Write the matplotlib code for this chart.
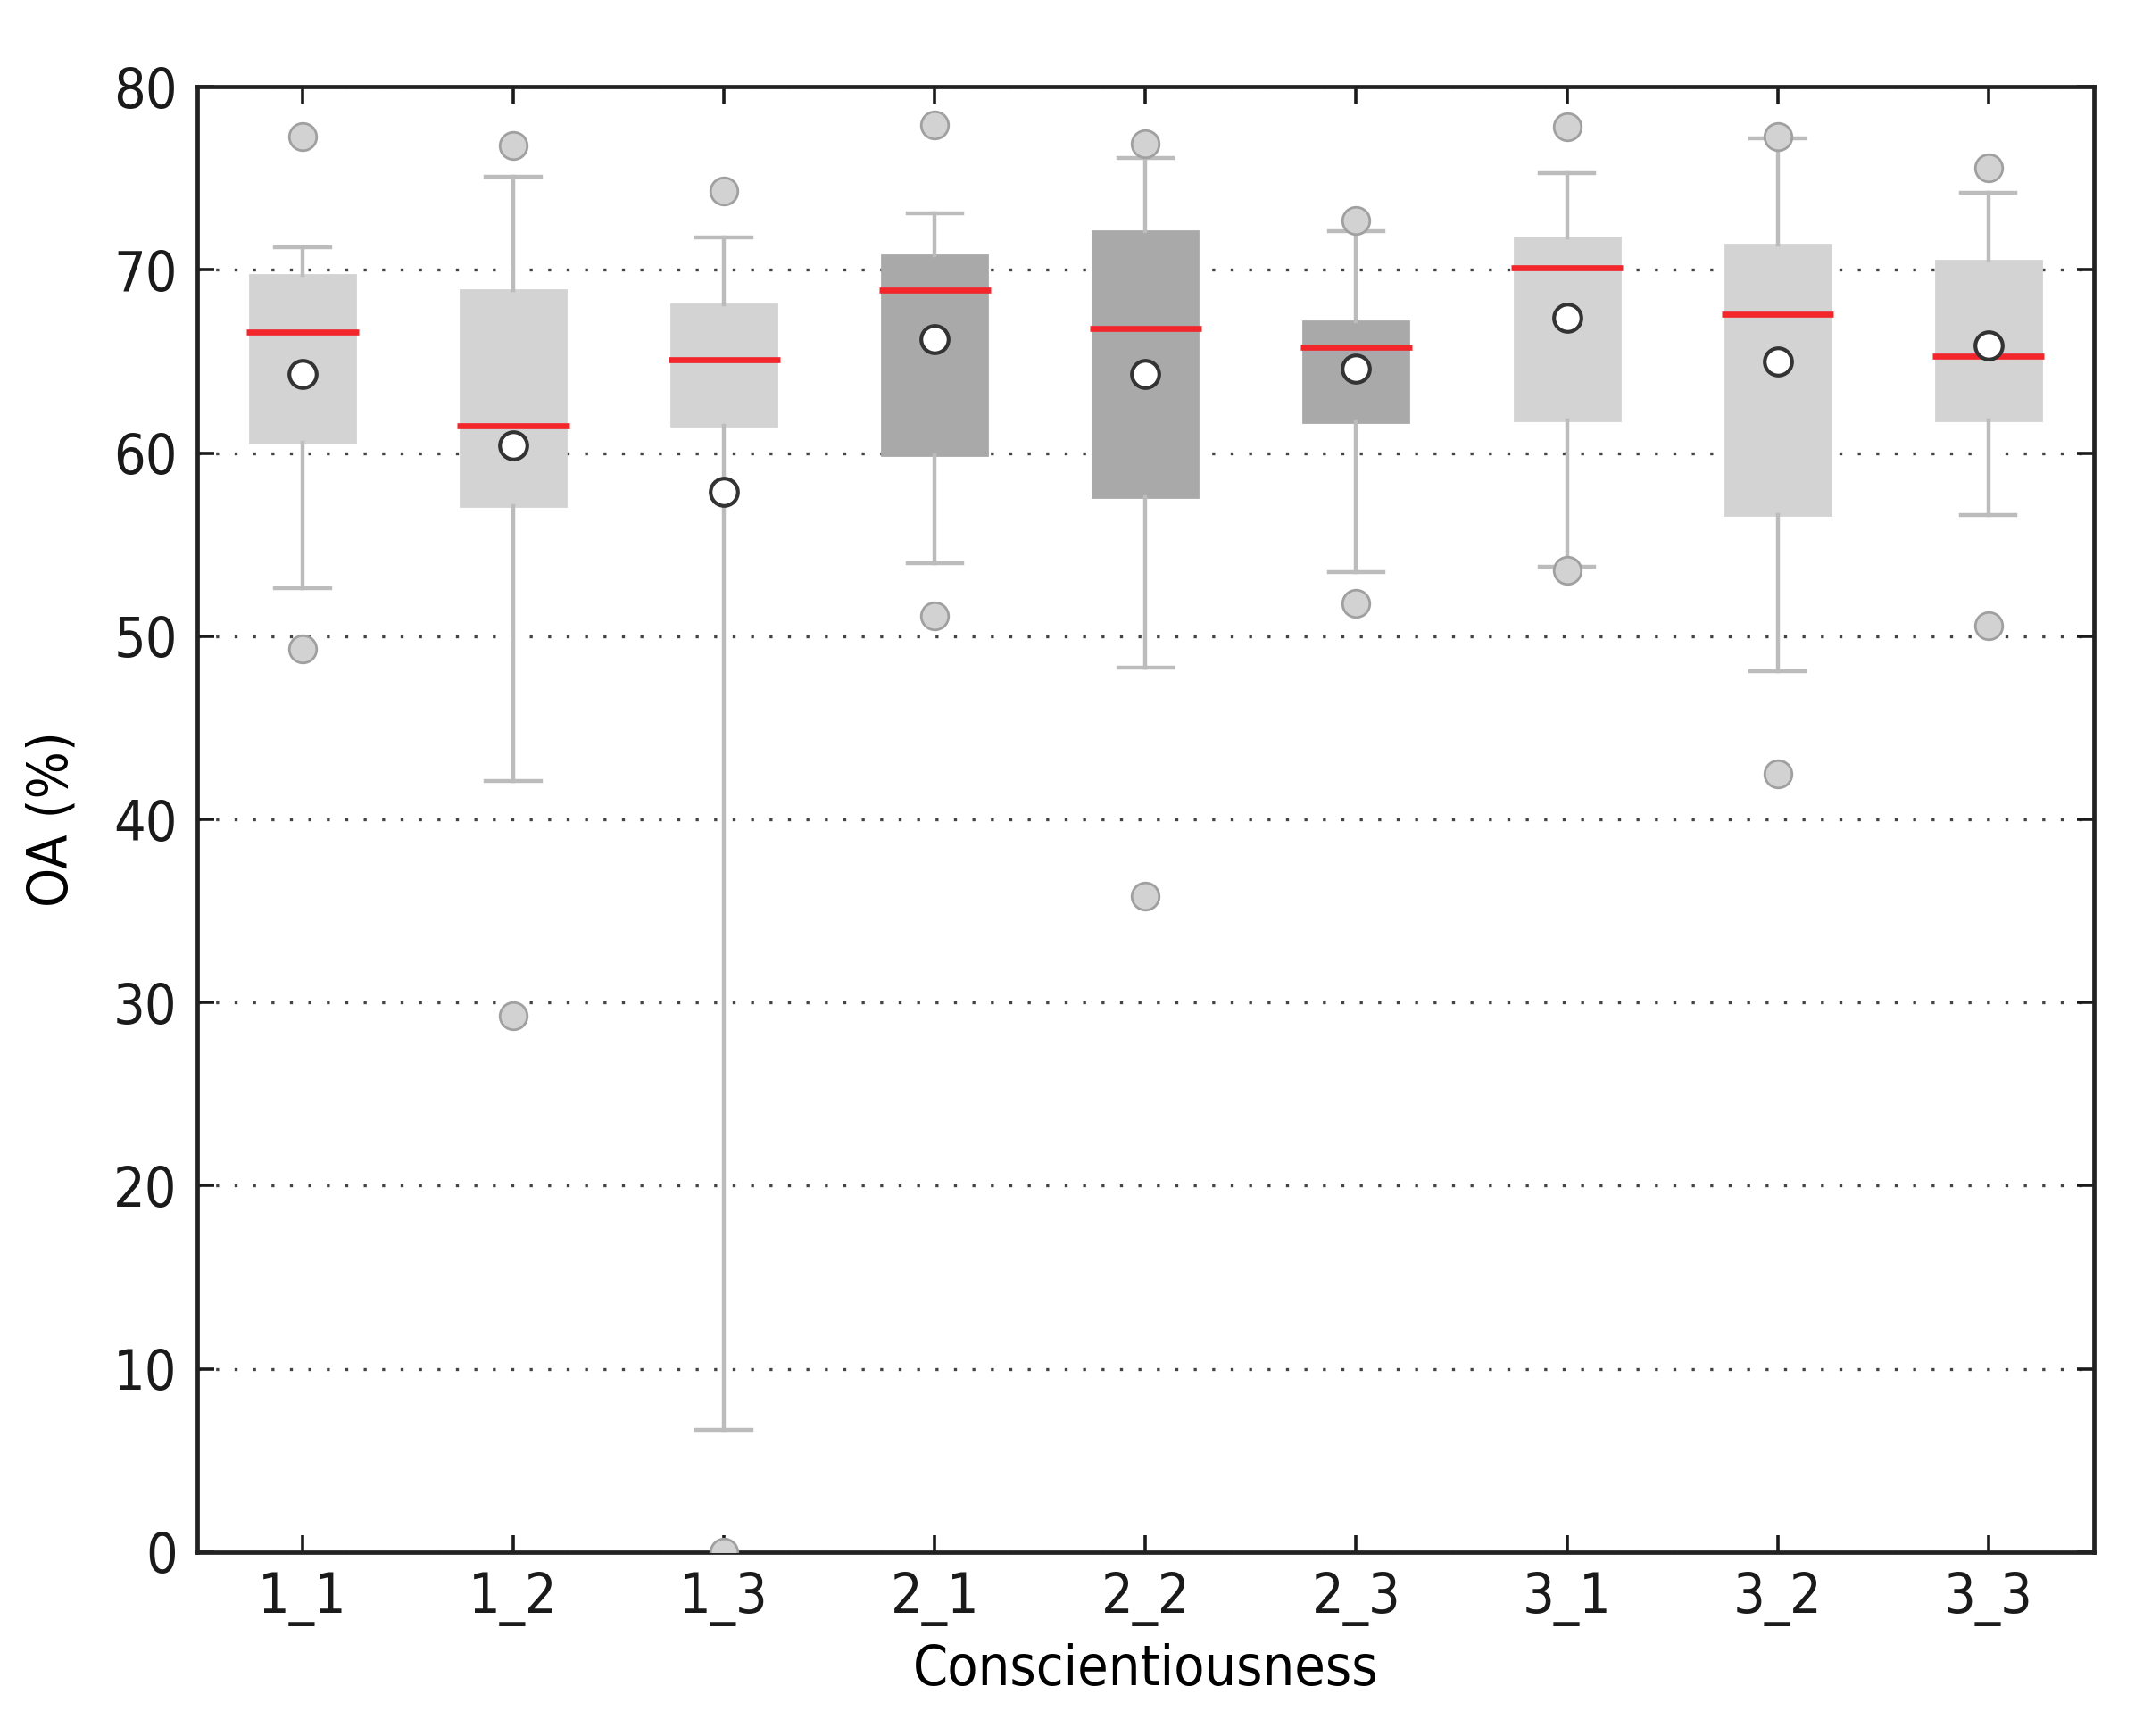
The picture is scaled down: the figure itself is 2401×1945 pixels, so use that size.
import numpy as np
import matplotlib
matplotlib.use("Agg")
import matplotlib.pyplot as plt

# values
labels = ["1_1", "1_2", "1_3", "2_1", "2_2", "2_3", "3_1", "3_2", "3_3"]
whislo = [52.6, 42.1, 6.65, 54.0, 48.3, 53.5, 53.8, 48.1, 56.6]
q1     = [60.55, 57.1, 61.5, 59.9, 57.6, 61.7, 61.8, 56.6, 61.8]
med    = [66.6, 61.5, 65.1, 68.9, 66.8, 65.8, 70.1, 67.6, 65.3]
q3     = [69.75, 68.9, 68.1, 70.8, 72.1, 67.2, 71.8, 71.4, 70.5]
whishi = [71.25, 75.1, 71.8, 73.1, 76.1, 72.1, 75.3, 77.2, 74.2]
means  = [64.3, 60.4, 57.9, 66.2, 64.3, 64.6, 67.4, 65.0, 65.9]
fliers = [[77.3, 49.3], [76.8, 29.3], [74.3, 0.0], [77.9, 51.1],
          [76.9, 35.8], [72.7, 51.8], [77.8, 53.6], [77.3, 42.5],
          [75.6, 50.6]]
dark = [False, False, False, True, True, True, False, False, False]

plt.rcParams["font.family"] = "DejaVu Sans"
plt.rcParams["font.stretch"] = "condensed"
plt.rcParams["font.size"] = 22.5

stats = []
for i in range(len(labels)):
    stats.append(dict(label=labels[i], whislo=whislo[i], q1=q1[i], med=med[i],
                      q3=q3[i], whishi=whishi[i], mean=means[i],
                      fliers=fliers[i]))

fig = plt.figure(figsize=(12.005, 9.725), dpi=200)
ax = fig.add_axes([0.092, 0.106, 0.885, 0.844])

bp = ax.bxp(stats, positions=np.arange(1, 10), widths=0.5, capwidths=0.26,
            patch_artist=True, showmeans=True, zorder=3,
            whiskerprops=dict(color="#bcbcbc", linewidth=1.6),
            capprops=dict(color="#bcbcbc", linewidth=1.6),
            medianprops=dict(color="#f2262b", linewidth=2.4),
            meanprops=dict(marker="o", markerfacecolor="white",
                           markeredgecolor="#333333", markersize=11,
                           markeredgewidth=1.5),
            flierprops=dict(marker="o", markerfacecolor="#d2d2d2",
                            markeredgecolor="#a0a0a0", markersize=11,
                            markeredgewidth=1.0))

for patch, d in zip(bp["boxes"], dark):
    c = "#a9a9a9" if d else "#d3d3d3"
    patch.set_facecolor(c)
    patch.set_edgecolor(c)
    patch.set_linewidth(1.0)

# medians slightly wider than the boxes
for line in bp["medians"]:
    x = np.asarray(line.get_xdata(), dtype=float)
    line.set_xdata([x.min() - 0.015, x.max() + 0.015])

ax.set_xlim(0.5, 9.5)
ax.set_ylim(0, 80)
ax.set_yticks(np.arange(0, 81, 10))
ax.yaxis.grid(True, linestyle=(0, (1, 5.2)), color="#444444", linewidth=1.2, zorder=0)
ax.set_axisbelow(True)

ax.tick_params(direction="in", length=7, width=1.3, top=True, right=True,
               labelsize=22.5, pad=8, colors="#1a1a1a")
for s in ax.spines.values():
    s.set_linewidth(1.7)
    s.set_color("#222222")

ax.set_xlabel("Conscientiousness", fontsize=22.5, labelpad=7)
ax.set_ylabel("OA (%)", fontsize=22.5, labelpad=14)

fig.savefig("out.png", dpi=200)
